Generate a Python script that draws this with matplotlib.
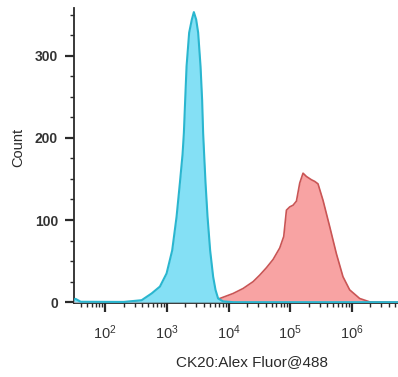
import numpy as np
import matplotlib
matplotlib.use("Agg")
import matplotlib.pyplot as plt
from matplotlib.ticker import LogLocator, MultipleLocator, FixedLocator

plt.rcParams['font.family'] = ['Liberation Sans', 'DejaVu Sans']
plt.rcParams['mathtext.fontset'] = 'custom'
plt.rcParams['mathtext.rm'] = 'Liberation Sans'
plt.rcParams['mathtext.it'] = 'Liberation Sans'

# Isotype / control (blue) histogram: intensity, count
blue_x = [31, 33, 40, 200, 389, 565, 771, 989, 1219, 1436, 1625, 1796, 1887, 1981,
          2086, 2298, 2541, 2740, 2987, 3217, 3517, 3733, 3875, 4023, 4239, 4567,
          5035, 5632, 6153, 6777, 8161, 12000, 5.6e6]
blue_y = [3, 4, 0.5, 0.3, 2.4, 10.6, 19, 35, 63, 104, 145, 180, 206, 246,
          287, 328, 344, 353, 344, 328, 287, 246, 206, 180, 145, 104,
          63, 31, 15, 4.5, 1, 0, 0]

# CK20 stained (red) histogram: intensity, count
red_x = [31, 240, 1000, 3000, 5000, 7227, 11880, 17260, 25060, 32150, 41290, 52850,
         67800, 78700, 87050, 98600, 111500, 126500, 143100, 161900, 183600,
         221300, 250400, 283300, 341500, 438300, 562800, 719900, 924400,
         1343000, 1950000, 5.6e6]
red_y = [0, 0.5, 1.5, 2, 3, 4.5, 10.6, 16.7, 25, 33, 42, 52,
         66, 80, 112, 116, 118, 123, 145, 157, 153,
         149, 147, 144, 124, 92, 59, 31, 15,
         4.5, 0.4, 0]

y_major = [0, 100, 200, 300]
x_major = [1e2, 1e3, 1e4, 1e5, 1e6]
x_labels = [r'$10^{2}$', r'$10^{3}$', r'$10^{4}$', r'$10^{5}$', r'$10^{6}$']

fig = plt.figure(figsize=(3.98, 3.77), dpi=100)
ax = fig.add_axes([74/398, 1-303/377, 1-74/398, (303-8)/377])

ax.fill_between(red_x, red_y, 0, color='#f8a3a3', lw=0, zorder=2)
ax.plot(red_x, red_y, color='#c95555', lw=1.2, zorder=3)
ax.fill_between(blue_x, blue_y, 0, color='#84e0f5', lw=0, zorder=4)
ax.plot(blue_x, blue_y, color='#2ab6cf', lw=1.5, zorder=5)

ax.set_xscale('log')
ax.set_xlim(10**1.493, 10**6.75)
ax.set_ylim(-1, 358)

ax.xaxis.set_major_locator(FixedLocator(x_major))
ax.set_xticklabels(x_labels)
ax.xaxis.set_minor_locator(LogLocator(base=10, subs=np.arange(2, 10)))
ax.yaxis.set_major_locator(FixedLocator(y_major))
ax.yaxis.set_minor_locator(MultipleLocator(25))

for s in ['top', 'right']:
    ax.spines[s].set_visible(False)
for s in ['left', 'bottom']:
    ax.spines[s].set_color('#2a2a2a')
    ax.spines[s].set_linewidth(1.3)

ax.tick_params(axis='both', which='major', length=6.5, width=1.6, color='#2a2a2a',
               direction='out', pad=5, labelcolor='#333333')
ax.tick_params(axis='both', which='minor', length=3, width=1.0, color='#2a2a2a',
               direction='out')
ax.tick_params(axis='x', which='major', labelsize=10.5, pad=8)
ax.tick_params(axis='y', which='major', labelsize=10)
for lab in ax.get_yticklabels():
    lab.set_fontweight('bold')

fig.text(252/398, 1-362/377, 'CK20:Alex Fluor@488', ha='center', va='center',
         fontsize=11, color='#2a2a2a')
fig.text(18.5/398, 1-147/377, 'Count', ha='center', va='center', rotation=90,
         fontsize=10.5, color='#2a2a2a')

fig.savefig('out.png', dpi=100)
